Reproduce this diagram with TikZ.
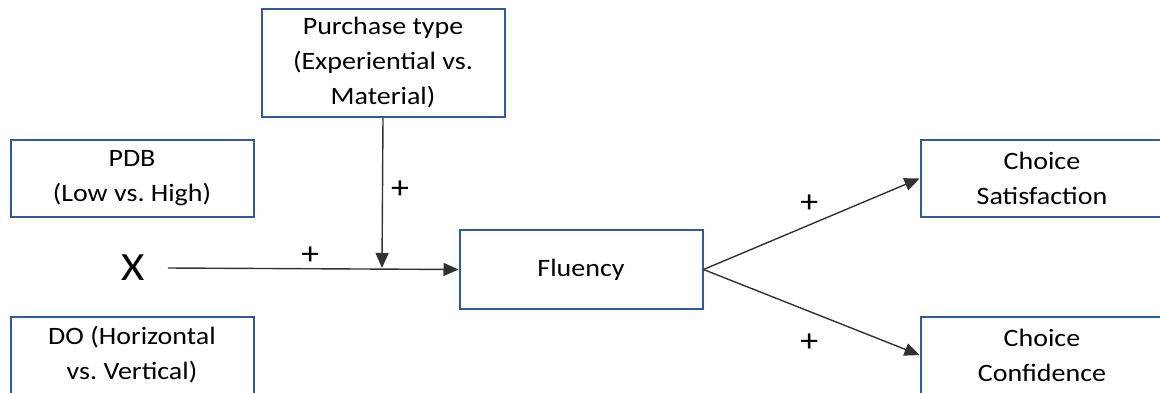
\documentclass[tikz,border=0pt]{standalone}
\usepackage{fontspec}
\setmainfont{Carlito}[FakeStretch=1.12]
\usepackage{tikz}
\usetikzlibrary{arrows.meta}
\frenchspacing

\definecolor{boxblue}{RGB}{52,88,158}
\definecolor{arrowgrey}{RGB}{50,50,50}

\tikzset{
    varbox/.style={draw=boxblue, line width=2pt, align=center,
        minimum width=243pt, inner sep=0pt,
        font=\fontsize{25}{35}\selectfont},
    path arrow/.style={draw=arrowgrey, line width=1.4pt,
        -{Triangle[length=15pt,width=13pt]}},
    plus/.style={font=\fontsize{32}{32}\selectfont, inner sep=0pt}
}

\begin{document}
\begin{tikzpicture}[x=1pt,y=-1pt]
    % Frame of the picture
    \clip (0,0) rectangle (1160,392);

    % Moderator on top
    \node[varbox, minimum height=108pt] (ptype) at (383,63)
        {Purchase type\\(Experiential vs.\\Material)};

    % Independent variables on the left
    \node[varbox, minimum height=77pt] (pdb) at (132,178.5)
        {PDB\\(Low vs. High)};
    \node[font=\fontsize{40}{40}\selectfont, inner ysep=0pt, inner xsep=23pt]
        (xvar) at (133,268) {X};
    \node[varbox, minimum height=77pt] (do) at (132,355)
        {DO (Horizontal\\vs. Vertical)};

    % Mediator
    \node[varbox, minimum height=79pt] (fluency) at (581,269.5) {Fluency};

    % Outcomes on the right
    \node[varbox, minimum height=77pt] (sat) at (1042,178.5)
        {Choice\\Satisfaction};
    \node[varbox, minimum height=77pt] (conf) at (1042,355)
        {Choice\\Confidence};

    % X to fluency, with the moderator arrow landing on it
    \coordinate (join) at (382,268);
    \draw[path arrow] (xvar.east) -- (fluency.west)
        node[pos=0.49, above=4pt, plus] (p1) {+};
    \draw[path arrow] (ptype.south) -- (join)
        node[pos=0.48, right=8pt, plus] (p2) {+};

    % Fluency to both outcomes
    \draw[path arrow] (fluency.east) -- (sat.west)
        node[pos=0.49, above=12pt, plus] (p3) {+};
    \draw[path arrow] (fluency.east) -- (conf.west)
        node[pos=0.49, below=22pt, plus] (p4) {+};
\end{tikzpicture}
\end{document}
